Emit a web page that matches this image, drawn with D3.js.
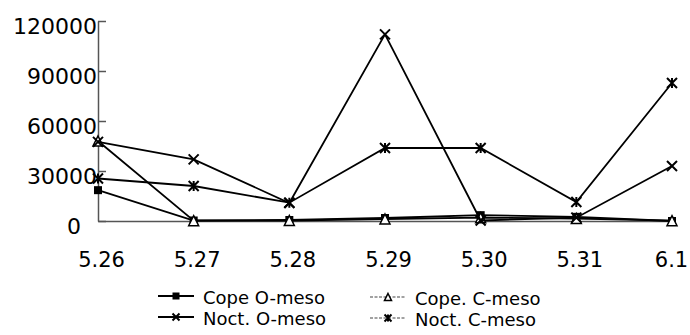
<!DOCTYPE html>
<html lang="en">
<head>
    <meta charset="UTF-8">
    <title>Cope / Noct. meso</title>
    <script src="https://d3js.org/d3.v7.min.js"></script>
    <style>
        body { margin: 0; background: #fff; }
        svg text {
            font-family: "DejaVu Sans", sans-serif;
            fill: #000;
        }
    </style>
</head>
<body>
    <svg width="690" height="335"></svg>

    <script>
        // data
        const dates = ["5.26", "5.27", "5.28", "5.29", "5.30", "5.31", "6.1"];
        const yTicks = [0, 30000, 60000, 90000, 120000];

        const copeO  = [18500, 300, 600, 1800, 3500, 2500, 0];
        const copeC  = [48000, 200, 300, 1200, 2000, 1500, 200];
        const noctO  = [47500, 37000, 10800, 112000, 300, 2000, 33000];
        const noctC  = [25500, 21000, 11000, 43800, 43800, 11400, 82800];

        const series = [
            { name: "Cope O-meso",  values: copeO, marker: "square",   legendDash: null },
            { name: "Cope. C-meso", values: copeC, marker: "triangle", legendDash: "3,1.5" },
            { name: "Noct. O-meso", values: noctO, marker: "cross",    legendDash: null },
            { name: "Noct. C-meso", values: noctC, marker: "asterisk", legendDash: "3,1.5" }
        ];

        const svg = d3.select("svg");

        const x = d3.scalePoint().domain(dates).range([98, 672]);
        const y = d3.scaleLinear().domain([0, 120000]).range([221, 21]);

        // y axis, ticks pointing inward
        const yAxis = svg.append("g")
            .attr("transform", "translate(98,0)")
            .call(d3.axisLeft(y).tickValues(yTicks).tickFormat(d3.format("d"))
                .tickSizeInner(-8).tickSizeOuter(0).tickPadding(1));
        yAxis.select(".domain").attr("stroke", "#555").attr("stroke-width", 1.5);
        yAxis.selectAll(".tick line").attr("stroke", "#555").attr("stroke-width", 1.5);
        yAxis.selectAll(".tick text")
            .style("font-size", "22px")
            .attr("dy", "0.55em")
            .attr("dx", d => d === 0 ? -16 : 0);

        // x axis
        const xAxis = svg.append("g")
            .attr("transform", "translate(0,221)")
            .call(d3.axisBottom(x).tickSize(0).tickPadding(31));
        xAxis.select(".domain").attr("stroke", "#555").attr("stroke-width", 1.5);
        xAxis.selectAll(".tick text")
            .style("font-size", "21px")
            .attr("dx", (d, i) => i === dates.length - 1 ? -1 : 3);

        const line = d3.line()
            .x((d, i) => x(dates[i]))
            .y(d => y(d));

        function drawMarker(g, type, size) {
            const s = size;
            if (type === "square") {
                g.append("rect").attr("x", -s / 2).attr("y", -s / 2)
                    .attr("width", s).attr("height", s).attr("fill", "#000");
            } else if (type === "triangle") {
                g.append("path")
                    .attr("d", `M0,${-s / 2}L${s / 2},${s / 2}L${-s / 2},${s / 2}Z`)
                    .attr("fill", "#fff").attr("stroke", "#000").attr("stroke-width", 1.5);
            } else if (type === "cross") {
                g.append("path")
                    .attr("d", `M${-s / 2},${-s / 2}L${s / 2},${s / 2}M${s / 2},${-s / 2}L${-s / 2},${s / 2}`)
                    .attr("stroke", "#000").attr("stroke-width", 2);
            } else {
                g.append("path")
                    .attr("d", `M${-s / 2},${-s / 2}L${s / 2},${s / 2}M${s / 2},${-s / 2}L${-s / 2},${s / 2}M0,${-s / 2}L0,${s / 2}`)
                    .attr("stroke", "#000").attr("stroke-width", 2);
            }
        }

        series.forEach(s => {
            svg.append("path")
                .datum(s.values)
                .attr("d", line)
                .attr("fill", "none")
                .attr("stroke", "#000")
                .attr("stroke-width", 1.8);

            s.values.forEach((v, i) => {
                const g = svg.append("g")
                    .attr("transform", `translate(${x(dates[i])},${y(v)})`);
                drawMarker(g, s.marker, s.marker === "square" ? 8 : 10);
            });
        });

        // legend, two columns
        const legendPos = [
            { lx: 158, ty: 298 }, { lx: 370, ty: 299 },
            { lx: 158, ty: 319 }, { lx: 370, ty: 320 }
        ];
        series.forEach((s, i) => {
            const p = legendPos[i];
            const g = svg.append("g");
            g.append("line")
                .attr("x1", p.lx).attr("x2", p.lx + 36)
                .attr("y1", p.ty - 2).attr("y2", p.ty - 2)
                .attr("stroke", s.legendDash ? "#444" : "#000")
                .attr("stroke-width", s.legendDash ? 1.2 : 2)
                .attr("stroke-dasharray", s.legendDash);
            const m = g.append("g").attr("transform", `translate(${p.lx + 18},${p.ty - 2})`);
            drawMarker(m, s.marker, 7);
            g.append("text")
                .attr("x", p.lx + 45)
                .attr("y", p.ty)
                .attr("dy", "0.35em")
                .style("font-size", "18px")
                .text(s.name);
        });
    </script>
</body>
</html>
